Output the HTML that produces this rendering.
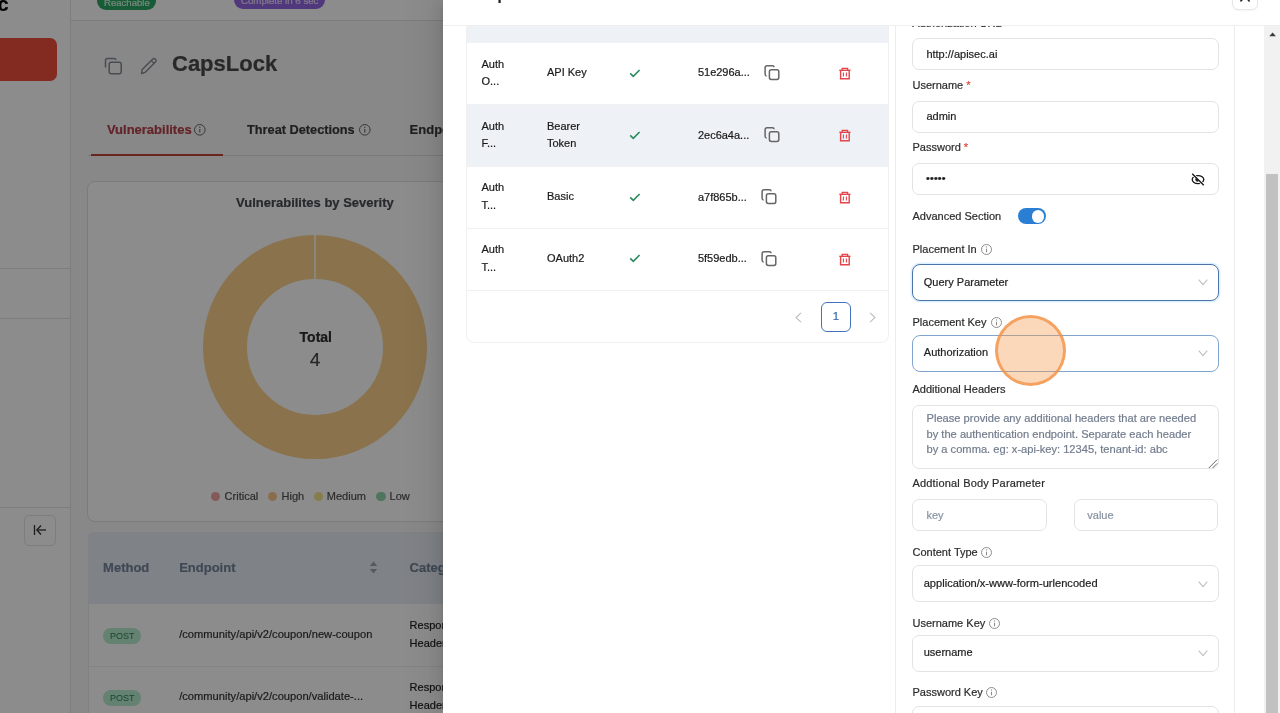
<!DOCTYPE html>
<html><head><meta charset="utf-8"><title>Authentication</title>
<style>
*{box-sizing:border-box;margin:0;padding:0}
html,body{width:1280px;height:713px;overflow:hidden;background:#fff;font-family:"Liberation Sans", Arial, Helvetica, sans-serif;}
.t{position:absolute;white-space:nowrap;line-height:1.2;-webkit-text-stroke:0.2px currentColor}
.abs{position:absolute}
</style></head><body>
<div id="root" style="position:absolute;left:0;top:0;width:1280px;height:713px;overflow:hidden;will-change:transform">

<div class="abs" style="left:0;top:0;width:443px;height:713px;overflow:hidden;background:#f7f7f8">
<div style="position:absolute;left:0px;top:0px;width:71px;height:713px;background:#fff;border-right:1px solid #e3e3e3"></div>
<div class="t" style="left:-2.60px;top:-7.83px;font-size:20px;font-weight:700;color:#000;">c</div>
<div style="position:absolute;left:-10px;top:38px;width:66.8px;height:43px;background:#ee4d3d;border-radius:7px"></div>
<div style="position:absolute;left:0px;top:268px;width:70px;height:1px;background:#e3e3e3"></div>
<div style="position:absolute;left:0px;top:318px;width:70px;height:1px;background:#e3e3e3"></div>
<div style="position:absolute;left:0px;top:507px;width:70px;height:1px;background:#e3e3e3"></div>
<div style="position:absolute;left:24px;top:514.5px;width:32.4px;height:31.5px;border:1px solid #e3e3e3;border-radius:5px;background:#fff"></div>
<svg class="abs" style="left:32px;top:522px" width="16" height="16" viewBox="0 0 16 16"><line x1="2.5" y1="3" x2="2.5" y2="13" stroke="#333" stroke-width="1.3"/><line x1="5" y1="8" x2="14" y2="8" stroke="#333" stroke-width="1.3"/><polyline points="9,3.5 4.8,8 9,12.5" fill="none" stroke="#333" stroke-width="1.3"/></svg>
<div style="position:absolute;left:71px;top:0px;width:372px;height:21px;background:#fff;border-bottom:1px solid #e3e3e3"></div>
<div style="position:absolute;left:96.8px;top:-8px;width:59.2px;height:17.8px;background:#2aa865;border-radius:9px"></div>
<div class="t" style="left:-173.10px;width:600px;text-align:center;top:-3.49px;font-size:9.6px;font-weight:400;color:#d8f5e0;">Reachable</div>
<div style="position:absolute;left:234.3px;top:-9px;width:90.8px;height:17.6px;background:#9466e2;border-radius:9px"></div>
<div class="t" style="left:-20.30px;width:600px;text-align:center;top:-4.78px;font-size:9.7px;font-weight:400;color:#e8dcff;">Complete in 6 sec</div>
<svg class="abs" style="left:104px;top:57px" width="19" height="18" viewBox="0 0 19 18"><path d="M1.5 10.5 V3.2 Q1.5 1.5 3.2 1.5 H10.2 Q11.6 1.5 11.9 2.8" fill="none" stroke="#858a92" stroke-width="1.5"/><rect x="5.2" y="5.2" width="12" height="11.5" rx="2" fill="none" stroke="#858a92" stroke-width="1.5"/></svg>
<svg class="abs" style="left:140px;top:57px" width="18" height="18" viewBox="0 0 18 18"><path d="M1.5 16.5 L2.2 12.6 L12.6 2.2 Q14 0.9 15.4 2.2 Q16.8 3.6 15.4 5 L5 15.4 Z" fill="none" stroke="#858a92" stroke-width="1.4" stroke-linejoin="round"/><line x1="11.3" y1="3.6" x2="14" y2="6.3" stroke="#858a92" stroke-width="1.3"/></svg>
<div class="t" style="left:172.00px;top:50.78px;font-size:22px;font-weight:700;color:#4a4a4a;">CapsLock</div>
<div class="t" style="left:106.90px;top:121.80px;font-size:13px;font-weight:700;color:#b4414a;">Vulnerabilites</div>
<svg style="position:absolute;left:193.00px;top:123.20px" width="13.6" height="13.6" viewBox="0 0 13.6 13.6"><circle cx="6.8" cy="6.8" r="5.3" fill="none" stroke="#666" stroke-width="1"/><line x1="6.8" y1="6.0" x2="6.8" y2="9.6" stroke="#666" stroke-width="1.1"/><circle cx="6.8" cy="4.199999999999999" r="0.7" fill="#666"/></svg>
<div class="t" style="left:247.00px;top:122.03px;font-size:12.75px;font-weight:700;color:#3a3a3a;">Threat Detections</div>
<svg style="position:absolute;left:357.80px;top:123.20px" width="13.6" height="13.6" viewBox="0 0 13.6 13.6"><circle cx="6.8" cy="6.8" r="5.3" fill="none" stroke="#666" stroke-width="1"/><line x1="6.8" y1="6.0" x2="6.8" y2="9.6" stroke="#666" stroke-width="1.1"/><circle cx="6.8" cy="4.199999999999999" r="0.7" fill="#666"/></svg>
<div class="t" style="left:409.60px;top:121.80px;font-size:13px;font-weight:700;color:#3a3a3a;">Endpoints</div>
<div style="position:absolute;left:88px;top:154.5px;width:355px;height:1px;background:#dcdcdc"></div>
<div style="position:absolute;left:91px;top:154px;width:132px;height:2px;background:#c4443a"></div>
<div style="position:absolute;left:87.3px;top:181px;width:400px;height:341px;background:#fff;border:1px solid #e0e0e0;border-radius:8px"></div>
<div class="t" style="left:236.00px;top:194.70px;font-size:13px;font-weight:700;color:#484b52;">Vulnerabilites by Severity</div>
<svg class="abs" style="left:203px;top:234.5px" width="224" height="224" viewBox="0 0 224 224"><circle cx="112" cy="112" r="90" fill="none" stroke="#f9d08a" stroke-width="44"/><line x1="112" y1="0" x2="112" y2="44" stroke="#fff" stroke-width="1.5"/></svg>
<div class="t" style="left:15.80px;width:600px;text-align:center;top:328.85px;font-size:14px;font-weight:700;color:#2e2e2e;">Total</div>
<div class="t" style="left:15.00px;width:600px;text-align:center;top:348.62px;font-size:19px;font-weight:400;color:#444;">4</div>
<div class="abs" style="left:211.0px;top:492.2px;width:9.2px;height:9.2px;border-radius:50%;background:#f5a3a3"></div>
<div class="t" style="left:224.60px;top:490.19px;font-size:11px;font-weight:400;color:#505050;">Critical</div>
<div class="abs" style="left:268.2px;top:492.2px;width:9.2px;height:9.2px;border-radius:50%;background:#f8c98a"></div>
<div class="t" style="left:281.60px;top:490.19px;font-size:11px;font-weight:400;color:#505050;">High</div>
<div class="abs" style="left:313.5px;top:492.2px;width:9.2px;height:9.2px;border-radius:50%;background:#f2e48a"></div>
<div class="t" style="left:326.80px;top:490.19px;font-size:11px;font-weight:400;color:#505050;">Medium</div>
<div class="abs" style="left:376.4px;top:492.2px;width:9.2px;height:9.2px;border-radius:50%;background:#8ed8aa"></div>
<div class="t" style="left:389.60px;top:490.19px;font-size:11px;font-weight:400;color:#505050;">Low</div>
<div style="position:absolute;left:87.5px;top:531.7px;width:400px;height:200px;background:#fff;border:1px solid #ececec;border-radius:5px 5px 0 0"></div>
<div style="position:absolute;left:88.5px;top:532.7px;width:400px;height:71.1px;background:#e7edf4;border-radius:4px 4px 0 0"></div>
<div class="t" style="left:103.10px;top:560.30px;font-size:13px;font-weight:700;color:#74849a;">Method</div>
<div class="t" style="left:179.20px;top:560.30px;font-size:13px;font-weight:700;color:#74849a;">Endpoint</div>
<svg class="abs" style="left:369px;top:561px" width="9" height="13" viewBox="0 0 9 13"><path d="M4.5 0.5 L8.2 5 H0.8 Z" fill="#9aa5b3"/><path d="M4.5 12.5 L8.2 8 H0.8 Z" fill="#9aa5b3"/></svg>
<div class="t" style="left:409.60px;top:560.30px;font-size:13px;font-weight:700;color:#74849a;">Category</div>
<div style="position:absolute;left:88px;top:666px;width:400px;height:1px;background:#eceff3"></div>
<div style="position:absolute;left:103.1px;top:627.5px;width:38.2px;height:16.2px;background:#b6ecd0;border-radius:8px"></div>
<div class="t" style="left:-177.80px;width:600px;text-align:center;top:630.78px;font-size:9px;font-weight:400;color:#2a8052;-webkit-text-stroke:0">POST</div>
<div class="t" style="left:179.20px;top:627.95px;font-size:11.15px;font-weight:400;color:#333;">/community/api/v2/coupon/new-coupon</div>
<div class="t" style="left:409.60px;top:618.89px;font-size:11px;font-weight:400;color:#222;">Response</div>
<div class="t" style="left:409.60px;top:636.79px;font-size:11px;font-weight:400;color:#222;">Headers</div>
<div style="position:absolute;left:103.1px;top:689.7px;width:38.2px;height:16.2px;background:#b6ecd0;border-radius:8px"></div>
<div class="t" style="left:-177.80px;width:600px;text-align:center;top:692.98px;font-size:9px;font-weight:400;color:#2a8052;-webkit-text-stroke:0">POST</div>
<div class="t" style="left:179.20px;top:690.15px;font-size:11.15px;font-weight:400;color:#333;">/community/api/v2/coupon/validate-...</div>
<div class="t" style="left:409.60px;top:681.09px;font-size:11px;font-weight:400;color:#222;">Response</div>
<div class="t" style="left:409.60px;top:698.99px;font-size:11px;font-weight:400;color:#222;">Headers</div>
</div>
<div style="position:absolute;left:0px;top:0px;width:443px;height:713px;background:rgba(0,0,0,0.45)"></div>
<div class="abs" style="left:443px;top:0;width:837px;height:713px;background:#fff;box-shadow:-6px 0 16px 0 rgba(0,0,0,0.08),-3px 0 6px -4px rgba(0,0,0,0.12),-9px 0 28px 8px rgba(0,0,0,0.05)"></div>
<div style="position:absolute;left:443px;top:24.5px;width:837px;height:1px;background:#efefef"></div>
<div class="t" style="left:465.00px;top:-13.90px;font-size:15px;font-weight:700;color:#1f1f1f;">Setup Authentication <span style="color:#4096ff;font-weight:400;font-size:13px">Learn more</span></div>
<div style="position:absolute;left:1232px;top:-20px;width:25.7px;height:30px;border:1px solid #e6e6e6;border-radius:6px;background:#fff;box-shadow:0 1px 2px rgba(0,0,0,0.04)"></div>
<svg class="abs" style="left:1239px;top:0px" width="12" height="4" viewBox="0 0 12 4"><path d="M4.4 -1.5 L1.4 1.4 M7.8 -1.5 L10.6 1.4" stroke="#222" stroke-width="1.5" fill="none"/></svg>
<div class="abs" style="left:443px;top:25.5px;width:837px;height:688px;overflow:hidden">
<div class="abs" style="left:-443px;top:-25.5px;width:1280px;height:713px">
<div style="position:absolute;left:466px;top:-10px;width:422.5px;height:353px;border:1px solid #f0f0f0;border-radius:8px;background:#fff"></div>
<div style="position:absolute;left:467px;top:0px;width:420.5px;height:42.7px;background:#eef1f5"></div>
<div style="position:absolute;left:467px;top:103.8px;width:420.5px;height:62px;background:#eef2f6"></div>
<div style="position:absolute;left:467px;top:103.8px;width:420.5px;height:1px;background:#f0f0f0"></div>
<div style="position:absolute;left:467px;top:165.8px;width:420.5px;height:1px;background:#f0f0f0"></div>
<div style="position:absolute;left:467px;top:228.2px;width:420.5px;height:1px;background:#f0f0f0"></div>
<div style="position:absolute;left:467px;top:290.2px;width:420.5px;height:1px;background:#f0f0f0"></div>
<div class="t" style="left:481.50px;top:57.59px;font-size:11px;font-weight:400;color:#1a1a1a;">Auth</div>
<div class="t" style="left:481.50px;top:75.39px;font-size:11px;font-weight:400;color:#1a1a1a;">O...</div>
<div class="t" style="left:547.00px;top:65.79px;font-size:11px;font-weight:400;color:#1a1a1a;">API Key</div>
<svg class="abs" style="left:629px;top:68.6px" width="12" height="9" viewBox="0 0 12 9"><polyline points="1.2,4.4 4.3,7.3 10.6,1" fill="none" stroke="#2e8c60" stroke-width="1.7"/></svg>
<div class="t" style="left:697.90px;top:66.09px;font-size:11px;font-weight:400;color:#1a1a1a;">51e296a...</div>
<svg class="abs" style="left:763.8px;top:65.0px" width="16" height="16" viewBox="0 0 16 16"><path d="M2.7 10.9 Q1.1 10.9 1.1 9.3 V2.8 Q1.1 0.8 3.1 0.8 H8.5 Q10.1 0.8 10.1 2.3" fill="none" stroke="#666" stroke-width="1.5"/><rect x="5.4" y="4.8" width="9.4" height="9.7" rx="1.9" fill="none" stroke="#666" stroke-width="1.5"/></svg>
<svg class="abs" style="left:839px;top:66.9px" width="12" height="13" viewBox="0 0 12 13"><path d="M3.2 3 V1.4 H8.6 V3" fill="none" stroke="#e4434a" stroke-width="1.3"/><line x1="0.3" y1="3.3" x2="11.5" y2="3.3" stroke="#e4434a" stroke-width="1.4"/><path d="M1.6 3.6 V11.8 H10.2 V3.6" fill="none" stroke="#e4434a" stroke-width="1.4"/><line x1="4.4" y1="5.6" x2="4.4" y2="9.6" stroke="#e4434a" stroke-width="1.1"/><line x1="7.4" y1="5.6" x2="7.4" y2="9.6" stroke="#e4434a" stroke-width="1.1"/></svg>
<div class="t" style="left:481.50px;top:119.59px;font-size:11px;font-weight:400;color:#1a1a1a;">Auth</div>
<div class="t" style="left:481.50px;top:137.39px;font-size:11px;font-weight:400;color:#1a1a1a;">F...</div>
<div class="t" style="left:547.00px;top:119.59px;font-size:11px;font-weight:400;color:#1a1a1a;">Bearer</div>
<div class="t" style="left:547.00px;top:137.39px;font-size:11px;font-weight:400;color:#1a1a1a;">Token</div>
<svg class="abs" style="left:629px;top:130.6px" width="12" height="9" viewBox="0 0 12 9"><polyline points="1.2,4.4 4.3,7.3 10.6,1" fill="none" stroke="#2e8c60" stroke-width="1.7"/></svg>
<div class="t" style="left:697.90px;top:128.59px;font-size:11px;font-weight:400;color:#1a1a1a;">2ec6a4a...</div>
<svg class="abs" style="left:763.8px;top:127.0px" width="16" height="16" viewBox="0 0 16 16"><path d="M2.7 10.9 Q1.1 10.9 1.1 9.3 V2.8 Q1.1 0.8 3.1 0.8 H8.5 Q10.1 0.8 10.1 2.3" fill="none" stroke="#666" stroke-width="1.5"/><rect x="5.4" y="4.8" width="9.4" height="9.7" rx="1.9" fill="none" stroke="#666" stroke-width="1.5"/></svg>
<svg class="abs" style="left:839px;top:128.9px" width="12" height="13" viewBox="0 0 12 13"><path d="M3.2 3 V1.4 H8.6 V3" fill="none" stroke="#e4434a" stroke-width="1.3"/><line x1="0.3" y1="3.3" x2="11.5" y2="3.3" stroke="#e4434a" stroke-width="1.4"/><path d="M1.6 3.6 V11.8 H10.2 V3.6" fill="none" stroke="#e4434a" stroke-width="1.4"/><line x1="4.4" y1="5.6" x2="4.4" y2="9.6" stroke="#e4434a" stroke-width="1.1"/><line x1="7.4" y1="5.6" x2="7.4" y2="9.6" stroke="#e4434a" stroke-width="1.1"/></svg>
<div class="t" style="left:481.50px;top:181.49px;font-size:11px;font-weight:400;color:#1a1a1a;">Auth</div>
<div class="t" style="left:481.50px;top:199.29px;font-size:11px;font-weight:400;color:#1a1a1a;">T...</div>
<div class="t" style="left:547.00px;top:190.49px;font-size:11px;font-weight:400;color:#1a1a1a;">Basic</div>
<svg class="abs" style="left:629px;top:192.5px" width="12" height="9" viewBox="0 0 12 9"><polyline points="1.2,4.4 4.3,7.3 10.6,1" fill="none" stroke="#2e8c60" stroke-width="1.7"/></svg>
<div class="t" style="left:697.90px;top:190.79px;font-size:11px;font-weight:400;color:#1a1a1a;">a7f865b...</div>
<svg class="abs" style="left:761.0px;top:188.9px" width="16" height="16" viewBox="0 0 16 16"><path d="M2.7 10.9 Q1.1 10.9 1.1 9.3 V2.8 Q1.1 0.8 3.1 0.8 H8.5 Q10.1 0.8 10.1 2.3" fill="none" stroke="#666" stroke-width="1.5"/><rect x="5.4" y="4.8" width="9.4" height="9.7" rx="1.9" fill="none" stroke="#666" stroke-width="1.5"/></svg>
<svg class="abs" style="left:839px;top:190.8px" width="12" height="13" viewBox="0 0 12 13"><path d="M3.2 3 V1.4 H8.6 V3" fill="none" stroke="#e4434a" stroke-width="1.3"/><line x1="0.3" y1="3.3" x2="11.5" y2="3.3" stroke="#e4434a" stroke-width="1.4"/><path d="M1.6 3.6 V11.8 H10.2 V3.6" fill="none" stroke="#e4434a" stroke-width="1.4"/><line x1="4.4" y1="5.6" x2="4.4" y2="9.6" stroke="#e4434a" stroke-width="1.1"/><line x1="7.4" y1="5.6" x2="7.4" y2="9.6" stroke="#e4434a" stroke-width="1.1"/></svg>
<div class="t" style="left:481.50px;top:243.39px;font-size:11px;font-weight:400;color:#1a1a1a;">Auth</div>
<div class="t" style="left:481.50px;top:261.19px;font-size:11px;font-weight:400;color:#1a1a1a;">T...</div>
<div class="t" style="left:547.00px;top:251.59px;font-size:11px;font-weight:400;color:#1a1a1a;">OAuth2</div>
<svg class="abs" style="left:629px;top:254.4px" width="12" height="9" viewBox="0 0 12 9"><polyline points="1.2,4.4 4.3,7.3 10.6,1" fill="none" stroke="#2e8c60" stroke-width="1.7"/></svg>
<div class="t" style="left:697.90px;top:251.89px;font-size:11px;font-weight:400;color:#1a1a1a;">5f59edb...</div>
<svg class="abs" style="left:761.0px;top:250.8px" width="16" height="16" viewBox="0 0 16 16"><path d="M2.7 10.9 Q1.1 10.9 1.1 9.3 V2.8 Q1.1 0.8 3.1 0.8 H8.5 Q10.1 0.8 10.1 2.3" fill="none" stroke="#666" stroke-width="1.5"/><rect x="5.4" y="4.8" width="9.4" height="9.7" rx="1.9" fill="none" stroke="#666" stroke-width="1.5"/></svg>
<svg class="abs" style="left:839px;top:252.7px" width="12" height="13" viewBox="0 0 12 13"><path d="M3.2 3 V1.4 H8.6 V3" fill="none" stroke="#e4434a" stroke-width="1.3"/><line x1="0.3" y1="3.3" x2="11.5" y2="3.3" stroke="#e4434a" stroke-width="1.4"/><path d="M1.6 3.6 V11.8 H10.2 V3.6" fill="none" stroke="#e4434a" stroke-width="1.4"/><line x1="4.4" y1="5.6" x2="4.4" y2="9.6" stroke="#e4434a" stroke-width="1.1"/><line x1="7.4" y1="5.6" x2="7.4" y2="9.6" stroke="#e4434a" stroke-width="1.1"/></svg>
<svg class="abs" style="left:794px;top:312px" width="9" height="11" viewBox="0 0 9 11"><polyline points="7,0.8 2,5.5 7,10.2" fill="none" stroke="#bdbdbd" stroke-width="1.1"/></svg>
<div style="position:absolute;left:821px;top:302.2px;width:30px;height:29.6px;border:1.3px solid #4274bd;border-radius:6px"></div>
<div class="t" style="left:536.00px;width:600px;text-align:center;top:310.42px;font-size:11.5px;font-weight:400;color:#3568b0;">1</div>
<svg class="abs" style="left:868px;top:312px" width="9" height="11" viewBox="0 0 9 11"><polyline points="2,0.8 7,5.5 2,10.2" fill="none" stroke="#bdbdbd" stroke-width="1.1"/></svg>
<div style="position:absolute;left:895px;top:-10px;width:340px;height:800px;border-left:1px solid #ededed;border-right:1px solid #ededed"></div>
<div class="t" style="left:912.30px;top:16.59px;font-size:11px;font-weight:400;color:#2b2b2b;">Authorization URL</div>
<div style="position:absolute;left:912.4px;top:38.2px;width:306.5px;height:32.3px;border:1px solid #e3e3e3;border-radius:7px;background:#fff;"></div>
<div class="t" style="left:926.40px;top:48.19px;font-size:11px;font-weight:400;color:#222;">http://apisec.ai</div>
<div class="t" style="left:912.50px;top:78.59px;font-size:11px;font-weight:400;color:#2b2b2b;">Username <span style="color:#e0453a">*</span></div>
<div style="position:absolute;left:912.4px;top:100.5px;width:306.5px;height:32px;border:1px solid #e3e3e3;border-radius:7px;background:#fff;"></div>
<div class="t" style="left:926.40px;top:109.69px;font-size:11px;font-weight:400;color:#222;">admin</div>
<div class="t" style="left:912.50px;top:140.99px;font-size:11px;font-weight:400;color:#2b2b2b;">Password <span style="color:#e0453a">*</span></div>
<div style="position:absolute;left:912.4px;top:163.2px;width:306.5px;height:31.5px;border:1px solid #e3e3e3;border-radius:7px;background:#fff;"></div>
<div class="t" style="left:926.00px;top:172.19px;font-size:11px;font-weight:400;color:#1a1a1a;letter-spacing:0.1px">•••••</div>
<svg class="abs" style="left:1191px;top:172.5px" width="14" height="13" viewBox="0 0 14 13"><ellipse cx="7" cy="6.6" rx="5.8" ry="4" fill="none" stroke="#111" stroke-width="1.3"/><line x1="1.2" y1="0.8" x2="12.8" y2="12.3" stroke="#fff" stroke-width="2.8"/><path d="M7.9 8.0 A2.1 2.1 0 0 1 4.9 5.0 Z" fill="#222"/><line x1="1.2" y1="0.8" x2="12.8" y2="12.3" stroke="#111" stroke-width="1.3"/></svg>
<div class="t" style="left:912.50px;top:209.59px;font-size:11px;font-weight:400;color:#2b2b2b;">Advanced Section</div>
<div style="position:absolute;left:1018px;top:208px;width:28px;height:16px;background:#2a7fd5;border-radius:8px"></div>
<div class="abs" style="left:1031.5px;top:210px;width:12.5px;height:12.5px;border-radius:50%;background:#fff"></div>
<div class="t" style="left:912.50px;top:242.79px;font-size:11px;font-weight:400;color:#2b2b2b;">Placement In</div>
<svg style="position:absolute;left:979.50px;top:242.50px" width="13.0" height="13.0" viewBox="0 0 13.0 13.0"><circle cx="6.5" cy="6.5" r="5.0" fill="none" stroke="#8c8c8c" stroke-width="1"/><line x1="6.5" y1="5.7" x2="6.5" y2="9.3" stroke="#8c8c8c" stroke-width="1.1"/><circle cx="6.5" cy="3.9" r="0.7" fill="#8c8c8c"/></svg>
<div style="position:absolute;left:912.4px;top:264px;width:306.5px;height:36.5px;border:1px solid #4d73a9;border-radius:7px;background:#fff;border-radius:8px;box-shadow:0 0 0 1.5px rgba(110,200,255,0.25)"></div>
<div class="t" style="left:923.80px;top:275.99px;font-size:11px;font-weight:400;color:#222;">Query Parameter</div>
<svg style="position:absolute;left:1198.40px;top:279.30px" width="10" height="7" viewBox="0 0 10 7"><polyline points="0.7,0.7 5,5.6 9.3,0.7" fill="none" stroke="#bfbfbf" stroke-width="1.1"/></svg>
<div class="t" style="left:912.50px;top:315.89px;font-size:11px;font-weight:400;color:#2b2b2b;">Placement Key</div>
<svg style="position:absolute;left:989.50px;top:315.90px" width="13.0" height="13.0" viewBox="0 0 13.0 13.0"><circle cx="6.5" cy="6.5" r="5.0" fill="none" stroke="#8c8c8c" stroke-width="1"/><line x1="6.5" y1="5.7" x2="6.5" y2="9.3" stroke="#8c8c8c" stroke-width="1.1"/><circle cx="6.5" cy="3.9" r="0.7" fill="#8c8c8c"/></svg>
<div style="position:absolute;left:912.4px;top:335.0px;width:306.5px;height:36.6px;border:1px solid #80a6d0;border-radius:7px;background:#fff;border-radius:8px"></div>
<div class="t" style="left:923.80px;top:346.19px;font-size:11px;font-weight:400;color:#222;">Authorization</div>
<svg style="position:absolute;left:1198.40px;top:350.30px" width="10" height="7" viewBox="0 0 10 7"><polyline points="0.7,0.7 5,5.6 9.3,0.7" fill="none" stroke="#bfbfbf" stroke-width="1.1"/></svg>
<div class="t" style="left:912.50px;top:382.59px;font-size:11px;font-weight:400;color:#2b2b2b;">Additional Headers</div>
<div style="position:absolute;left:912.4px;top:404.5px;width:306.5px;height:64px;border:1px solid #e3e3e3;border-radius:7px;background:#fff;"></div>
<div class="t" style="left:926.50px;top:412.37px;font-size:11.13px;font-weight:400;color:#737d8e;">Please provide any additional headers that are needed</div>
<div class="t" style="left:926.50px;top:428.37px;font-size:11.13px;font-weight:400;color:#737d8e;">by the authentication endpoint. Separate each header</div>
<div class="t" style="left:926.50px;top:442.87px;font-size:11.13px;font-weight:400;color:#737d8e;">by a comma. eg: x-api-key: 12345, tenant-id: abc</div>
<svg class="abs" style="left:1208px;top:459px" width="10" height="10" viewBox="0 0 10 10"><line x1="0.8" y1="9" x2="9.2" y2="0.6" stroke="#666" stroke-width="1"/><line x1="4.6" y1="9" x2="9.2" y2="4.4" stroke="#666" stroke-width="1"/></svg>
<div class="t" style="left:912.50px;top:477.19px;font-size:11px;font-weight:400;color:#2b2b2b;letter-spacing:0.17px">Addtional Body Parameter</div>
<div style="position:absolute;left:912.2px;top:499.2px;width:135.3px;height:32.3px;border:1px solid #e3e3e3;border-radius:7px;background:#fff;"></div>
<div class="t" style="left:926.40px;top:508.69px;font-size:11px;font-weight:400;color:#8a93a3;">key</div>
<div style="position:absolute;left:1073.7px;top:499.2px;width:144.8px;height:32.3px;border:1px solid #e3e3e3;border-radius:7px;background:#fff;"></div>
<div class="t" style="left:1087.30px;top:508.69px;font-size:11px;font-weight:400;color:#8a93a3;">value</div>
<div class="t" style="left:912.50px;top:545.89px;font-size:11px;font-weight:400;color:#2b2b2b;">Content Type</div>
<svg style="position:absolute;left:980.00px;top:546.20px" width="13.0" height="13.0" viewBox="0 0 13.0 13.0"><circle cx="6.5" cy="6.5" r="5.0" fill="none" stroke="#8c8c8c" stroke-width="1"/><line x1="6.5" y1="5.7" x2="6.5" y2="9.3" stroke="#8c8c8c" stroke-width="1.1"/><circle cx="6.5" cy="3.9" r="0.7" fill="#8c8c8c"/></svg>
<div style="position:absolute;left:912.4px;top:565.0px;width:306.5px;height:36.8px;border:1px solid #e3e3e3;border-radius:7px;background:#fff;"></div>
<div class="t" style="left:923.70px;top:576.99px;font-size:11.1px;font-weight:400;color:#222;">application/x-www-form-urlencoded</div>
<svg style="position:absolute;left:1198.40px;top:580.50px" width="10" height="7" viewBox="0 0 10 7"><polyline points="0.7,0.7 5,5.6 9.3,0.7" fill="none" stroke="#bfbfbf" stroke-width="1.1"/></svg>
<div class="t" style="left:912.50px;top:616.79px;font-size:11px;font-weight:400;color:#2b2b2b;">Username Key</div>
<svg style="position:absolute;left:987.50px;top:617.10px" width="13.0" height="13.0" viewBox="0 0 13.0 13.0"><circle cx="6.5" cy="6.5" r="5.0" fill="none" stroke="#8c8c8c" stroke-width="1"/><line x1="6.5" y1="5.7" x2="6.5" y2="9.3" stroke="#8c8c8c" stroke-width="1.1"/><circle cx="6.5" cy="3.9" r="0.7" fill="#8c8c8c"/></svg>
<div style="position:absolute;left:912.4px;top:635.3px;width:306.5px;height:36.6px;border:1px solid #e3e3e3;border-radius:7px;background:#fff;"></div>
<div class="t" style="left:923.70px;top:645.99px;font-size:11px;font-weight:400;color:#222;">username</div>
<svg style="position:absolute;left:1198.40px;top:649.60px" width="10" height="7" viewBox="0 0 10 7"><polyline points="0.7,0.7 5,5.6 9.3,0.7" fill="none" stroke="#bfbfbf" stroke-width="1.1"/></svg>
<div class="t" style="left:912.50px;top:685.79px;font-size:11px;font-weight:400;color:#2b2b2b;">Password Key</div>
<svg style="position:absolute;left:985.00px;top:686.10px" width="13.0" height="13.0" viewBox="0 0 13.0 13.0"><circle cx="6.5" cy="6.5" r="5.0" fill="none" stroke="#8c8c8c" stroke-width="1"/><line x1="6.5" y1="5.7" x2="6.5" y2="9.3" stroke="#8c8c8c" stroke-width="1.1"/><circle cx="6.5" cy="3.9" r="0.7" fill="#8c8c8c"/></svg>
<div style="position:absolute;left:912.4px;top:705.6px;width:306.5px;height:36.6px;border:1px solid #e3e3e3;border-radius:7px;background:#fff;"></div>
</div></div>
<div style="position:absolute;left:1264px;top:25.5px;width:16px;height:688px;background:#f1f1f1"></div>
<svg class="abs" style="left:1268.6px;top:32px" width="8" height="5" viewBox="0 0 8 5"><path d="M0.3 4.2 L3.6 0.4 L6.9 4.2 Z" fill="#3c3c3c"/></svg>
<div style="position:absolute;left:1266px;top:173.8px;width:11.8px;height:560px;background:#c1c1c1"></div>
<div class="abs" style="left:994.7px;top:315.3px;width:71px;height:71px;border-radius:50%;background:rgba(247,150,70,0.37);border:3px solid rgba(242,140,60,0.72)"></div>
</div></body></html>
